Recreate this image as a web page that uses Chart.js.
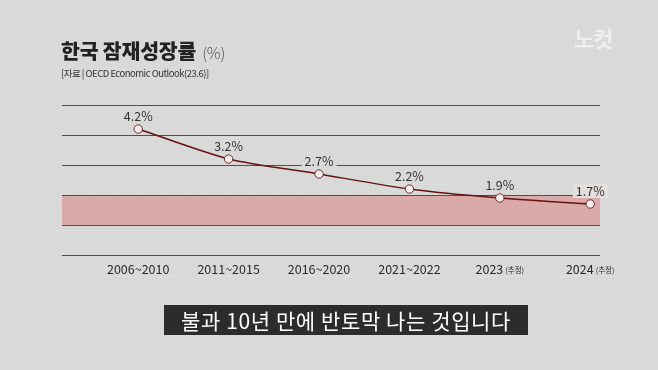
<!DOCTYPE html>
<html>
<head>
<meta charset="utf-8">
<script src="https://cdn.jsdelivr.net/npm/chart.js@4/dist/chart.umd.min.js"></script>
<style>
  html, body { margin: 0; padding: 0; }
  body {
    width: 658px; height: 370px; overflow: hidden; position: relative;
    background-color: #d9d9d9;
    background-image:
      linear-gradient(to right, rgba(255,255,255,0.10) 1px, transparent 1px),
      linear-gradient(to bottom, rgba(255,255,255,0.10) 1px, transparent 1px);
    background-size: 23px 23px;
    font-family: "Noto Sans CJK KR", "Noto Sans", sans-serif;
  }
  #wrap { position: absolute; left: 0; top: 0; width: 658px; height: 370px; }
  .title { position: absolute; left: 61px; top: 35px; font-size: 20.5px; font-weight: 900; color: #222; letter-spacing: -0.2px; white-space: nowrap; }
  .title .unit { font-weight: 300; color: #555; font-size: 15.5px; margin-left: 6px; }
  .src { position: absolute; left: 61px; top: 66px; font-size: 9.5px; color: #333; letter-spacing: -0.5px; white-space: nowrap; }
  .logo { position: absolute; left: 574px; top: 21px; font-size: 22px; font-weight: 700; color: rgba(255,255,255,0.55); letter-spacing: -1px; }
  .caption { position: absolute; left: 164px; top: 305px; width: 364px; height: 30px; background: rgba(30,30,30,0.93); color: #fff; font-size: 21px; font-weight: 400; line-height: 30px; text-align: center; white-space: nowrap; letter-spacing: 0.6px; }
</style>
</head>
<body>
<div id="wrap"><canvas id="c" width="658" height="370"></canvas></div>
<div class="title">한국 잠재성장률<span class="unit">(%)</span></div>
<div class="src">[자료 | OECD Economic Outlook(23.6)]</div>
<div class="logo">노컷</div>
<div class="caption">불과 10년 만에 반토막 나는 것입니다</div>
<script>
const categories = ["2006~2010", "2011~2015", "2016~2020", "2021~2022", "2023", "2024"];
const categoryNotes = ["", "", "", "", "(추정)", "(추정)"];
const growthRate = [4.2, 3.2, 2.7, 2.2, 1.9, 1.7];
const yTicks = [0, 1, 2, 3, 4, 5];
const bandRange = [1, 2];

const BG = '#d9d9d9';

const bandPlugin = {
  id: 'band',
  beforeDraw(chart) {
    const {ctx, chartArea, scales} = chart;
    const yTop = scales.y.getPixelForValue(bandRange[1]);
    const yBot = scales.y.getPixelForValue(bandRange[0]);
    ctx.save();
    ctx.fillStyle = '#daaaa9';
    ctx.fillRect(chartArea.left, yTop, chartArea.right - chartArea.left, yBot - yTop);
    ctx.restore();
  }
};

const labelPlugin = {
  id: 'labels',
  afterDatasetsDraw(chart) {
    const {ctx, scales} = chart;
    const meta = chart.getDatasetMeta(0);
    const yTop = scales.y.getPixelForValue(bandRange[1]);
    ctx.save();
    ctx.font = '400 12.5px "Noto Sans CJK KR", "Noto Sans", sans-serif';
    ctx.textAlign = 'center';
    ctx.textBaseline = 'middle';
    meta.data.forEach((pt, i) => {
      const txt = growthRate[i] + '%';
      const w = ctx.measureText(txt).width + 6;
      const cy = pt.y - 13;
      const inBand = (cy + 7) > yTop;
      ctx.fillStyle = inBand ? '#e4dfdc' : BG;
      ctx.fillRect(pt.x - w / 2, cy - 7, w, 14);
      ctx.fillStyle = '#333';
      ctx.fillText(txt, pt.x, cy);
    });
    ctx.restore();
  },
  afterDraw(chart) {
    const {ctx, scales} = chart;
    ctx.save();
    ctx.textBaseline = 'middle';
    const y = 269;
    categories.forEach((c, i) => {
      const x = scales.x.getPixelForValue(i);
      const f1 = '400 12.5px "Noto Sans CJK KR", "Noto Sans", sans-serif';
      const f2 = '400 7.5px "Noto Sans CJK KR", "Noto Sans", sans-serif';
      ctx.font = f1;
      const w1 = ctx.measureText(c).width;
      let w2 = 0;
      if (categoryNotes[i]) { ctx.font = f2; w2 = ctx.measureText(categoryNotes[i]).width + 2; }
      const start = x - (w1 + w2) / 2;
      ctx.fillStyle = '#2a2a2a';
      ctx.textAlign = 'left';
      ctx.font = f1;
      ctx.fillText(c, start, y);
      if (categoryNotes[i]) {
        ctx.font = f2;
        ctx.fillText(categoryNotes[i], start + w1 + 2, y + 1);
      }
    });
    ctx.restore();
  }
};

new Chart(document.getElementById('c'), {
  type: 'line',
  data: {
    datasets: [{
      data: growthRate.map((v, i) => ({x: i, y: v})),
      borderColor: '#661212',
      borderWidth: 1.5,
      tension: 0.25,
      pointRadius: 4.2,
      pointBorderWidth: 1,
      pointBackgroundColor: '#f7eeee',
      pointBorderColor: '#6e2a2a',
      fill: false
    }]
  },
  options: {
    responsive: false,
    animation: false,
    devicePixelRatio: 1,
    layout: { padding: { left: 62, right: 58, top: 105, bottom: 115 } },
    plugins: { legend: { display: false }, tooltip: { enabled: false } },
    scales: {
      x: {
        type: 'linear', display: false,
        min: -0.843, max: 5.108
      },
      y: {
        display: true,
        min: 0, max: 5,
        afterBuildTicks(scale) { scale.ticks = yTicks.map(v => ({value: v})); },
        ticks: { display: false },
        border: { display: false },
        grid: { color: '#4f4f4f', lineWidth: 1, drawTicks: false }
      }
    }
  },
  plugins: [bandPlugin, labelPlugin]
});
</script>
</body>
</html>
